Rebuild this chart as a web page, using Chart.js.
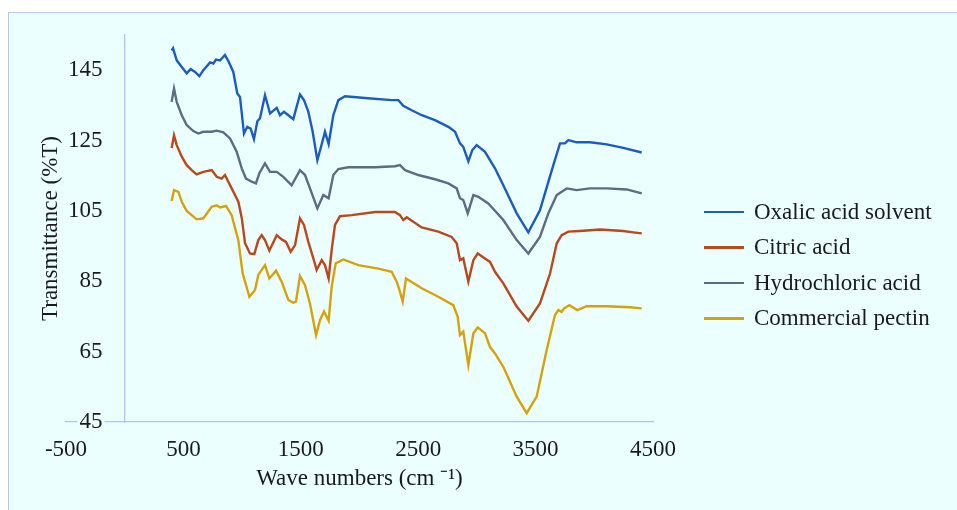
<!DOCTYPE html>
<html>
<head>
<meta charset="utf-8">
<script src="https://cdn.jsdelivr.net/npm/chart.js@4.4.1/dist/chart.umd.min.js"></script>
<style>
  html, body { margin: 0; padding: 0; background: #fff; }
  #frame { position: absolute; left: 8px; top: 12px; width: 949px; height: 498px; background: #ebffff;
           border-top: 1px solid #b7c9e6; border-left: 1px solid #b7c9e6; box-sizing: border-box; }
  #chart { position: absolute; left: 0; top: 0; }
  #legend { position: absolute; left: 704px; top: 194px; font-family: 'Liberation Serif', serif;
            font-size: 23px; color: #1a1a1a; }
  .item { display: flex; align-items: center; height: 35.5px; white-space: nowrap; }
  .swatch { width: 40px; height: 2.5px; margin-right: 10px; }
</style>
</head>
<body>
<div id="frame"></div>
<canvas id="chart" width="957" height="510"></canvas>
<div id="legend"></div>
<script>
// series names and colours (legend order)
const seriesNames = ['Oxalic acid solvent', 'Citric acid', 'Hydrochloric acid', 'Commercial pectin'];
const seriesColors = ['#1b5cc0', '#b9481b', '#5e6b82', '#d5a20b'];

// tick labels
const xTicks = [-500, 500, 1500, 2500, 3500, 4500];
const yTicks = [45, 65, 85, 105, 125, 145];

// Oxalic acid solvent
const oxalicWn = [400, 412, 443, 486, 528, 562, 599, 636, 670, 727, 755, 778, 812, 854, 883, 925, 959, 982,
  1016, 1044, 1073, 1101, 1130, 1152, 1195, 1238, 1295, 1323, 1357, 1394, 1436, 1493, 1527, 1564, 1601, 1641,
  1669, 1706, 1737, 1777, 1820, 1877, 2047, 2274, 2331, 2373, 2445, 2530, 2643, 2757, 2814, 2856, 2884, 2927,
  2961, 2998, 3069, 3154, 3225, 3339, 3438, 3537, 3651, 3708, 3750, 3779, 3850, 3963, 4106, 4247, 4404];
const oxalicT = [150.6, 151.2, 147.8, 145.9, 144.1, 145.3, 144.5, 143.3, 145, 147.2, 146.9, 148, 147.8, 149.3,
  147.6, 144.5, 138.4, 137.4, 127, 128.9, 128.4, 125.4, 130.5, 131.3, 137.9, 132.7, 134.3, 132.2, 133.2, 132.2,
  131.1, 138.1, 136.5, 133.2, 127.5, 119.4, 122.8, 127.5, 124, 132.2, 136.5, 137.6, 137.1, 136.5, 136.5, 134.9,
  133.6, 132.2, 130.8, 128.9, 127.5, 124.2, 123.2, 119.1, 122.3, 123.7, 121.8, 117.1, 112.3, 104.3, 98.9, 105.2,
  118, 124.2, 124.2, 125.1, 124.5, 124.5, 123.9, 122.9, 121.6];

// Citric acid
const citricWn = [400, 420, 443, 486, 528, 571, 613, 670, 741, 784, 826, 854, 911, 968, 997, 1025, 1067, 1104,
  1138, 1167, 1195, 1232, 1295, 1337, 1374, 1414, 1451, 1493, 1527, 1564, 1607, 1635, 1678, 1706, 1737, 1763,
  1791, 1834, 1934, 2132, 2302, 2345, 2373, 2402, 2530, 2671, 2785, 2828, 2856, 2884, 2927, 2970, 3007, 3069,
  3112, 3154, 3225, 3339, 3438, 3537, 3623, 3680, 3722, 3779, 3878, 4049, 4247, 4332, 4404];
const citricT = [122.9, 126.5, 123.7, 120.4, 118, 116.6, 115.4, 116.1, 116.6, 114.7, 114.2, 115.2, 111.4, 107.6,
  103, 95.8, 92.9, 92.7, 96.7, 98.1, 96.7, 93.7, 98.1, 96.9, 96.2, 93.4, 95.3, 102.9, 101, 96.2, 91.5, 88.2, 91,
  89.6, 85.8, 93.9, 101, 103.5, 103.8, 104.7, 104.7, 103.8, 102.4, 103.2, 100.3, 99.1, 97.6, 95.8, 91, 91.5, 84.9,
  91, 92.9, 91.5, 90.5, 87.7, 84.4, 77.8, 73.8, 78.7, 87.2, 95.8, 98.1, 99.1, 99.3, 99.7, 99.3, 98.9, 98.6];

// Hydrochloric acid
const hclWn = [400, 420, 443, 486, 528, 585, 627, 670, 741, 784, 840, 897, 954, 997, 1033, 1082, 1118, 1147,
  1195, 1238, 1295, 1351, 1422, 1493, 1536, 1578, 1641, 1692, 1737, 1777, 1820, 1905, 2132, 2302, 2345, 2388,
  2501, 2643, 2757, 2828, 2856, 2884, 2922, 2970, 3012, 3097, 3225, 3339, 3438, 3537, 3608, 3680, 3765, 3850,
  3963, 4106, 4276, 4404];
const hclT = [136, 139.8, 136, 132.2, 129.4, 127.7, 127, 127.5, 127.5, 127.8, 127.3, 125.6, 121.8, 117.1, 114.2,
  113.3, 112.8, 115.7, 118.5, 116.1, 116.1, 114.7, 112.3, 116.6, 115.2, 111.4, 105.7, 109.5, 108.6, 115.2, 116.9,
  117.4, 117.4, 117.7, 118, 116.6, 115.2, 114, 112.8, 111.4, 108.6, 108.1, 104.3, 109.5, 109, 107.1, 102.4, 96.7,
  92.9, 97.6, 104.3, 109.5, 111.4, 110.9, 111.4, 111.4, 111.1, 110];

// Commercial pectin
const pectinWn = [400, 420, 457, 486, 528, 613, 670, 741, 784, 812, 863, 911, 968, 1005, 1062, 1110, 1138, 1195,
  1232, 1289, 1337, 1394, 1436, 1459, 1493, 1536, 1578, 1630, 1664, 1698, 1737, 1763, 1797, 1862, 1990, 2160,
  2274, 2317, 2345, 2368, 2396, 2530, 2671, 2799, 2836, 2856, 2884, 2927, 2970, 3007, 3069, 3112, 3154, 3225,
  3339, 3424, 3509, 3594, 3665, 3694, 3722, 3742, 3787, 3855, 3935, 4106, 4304, 4404];
const pectinT = [107.8, 110.9, 110.4, 107.6, 105, 102.6, 102.9, 106.2, 106.6, 106, 106.4, 103.8, 96.7, 87.2, 80.6,
  82.5, 86.8, 89.6, 85.8, 88, 84.9, 79.7, 78.9, 79.2, 86.5, 83.9, 78.7, 69.7, 74, 76.4, 73.8, 83.4, 90.1, 91.2,
  89.6, 88.6, 87.7, 84.9, 82, 79.2, 85.8, 83, 80.6, 78.2, 75, 69.7, 70.7, 61.2, 70.2, 71.9, 70.2, 66.3, 64.5,
  60.7, 52.2, 47.5, 52.2, 65.4, 75.4, 76.8, 76.3, 77.3, 78.2, 76.8, 77.9, 77.9, 77.6, 77.3];

const xs = [oxalicWn, citricWn, hclWn, pectinWn];
const ys = [oxalicT, citricT, hclT, pectinT];

const bg = '#ebffff';
const axisColor = '#b4c6e6';
const textColor = '#1a1a1a';
const font = { family: "'Liberation Serif', serif", size: 23 };

const datasets = seriesNames.map((name, i) => ({
  label: name,
  data: xs[i].map((x, j) => ({ x: x, y: ys[i][j] })),
  borderColor: seriesColors[i],
  backgroundColor: seriesColors[i],
  yAxisID: 'y'
}));

new Chart(document.getElementById('chart'), {
  type: 'line',
  data: { datasets: datasets },
  options: {
    responsive: false,
    animation: false,
    layout: { padding: { left: 30, right: 304, top: 35, bottom: 10 } },
    plugins: { legend: { display: false }, tooltip: { enabled: false } },
    elements: { point: { radius: 0 }, line: { borderWidth: 2.4, tension: 0 } },
    scales: {
      x: {
        type: 'linear', min: -500, max: 4500,
        grid: { display: false, drawTicks: false },
        border: { color: axisColor, width: 1.3 },
        afterBuildTicks: s => { s.ticks = xTicks.map(v => ({ value: v })); },
        afterFit: s => { s.height = 78; },
        ticks: { padding: 14, color: textColor, font: font, maxRotation: 0, callback: v => String(v) },
        title: { display: true, text: 'Wave numbers (cm ⁻¹)', color: textColor, font: font, padding: { top: 0, bottom: 7 } }
      },
      // value axis: carries the title only
      y: {
        type: 'linear', min: 45, max: 155,
        grid: { display: false, drawTicks: false },
        border: { display: false },
        ticks: { display: false },
        afterFit: s => { s.width = 36; },
        title: { display: true, text: 'Transmittance (%T)', color: textColor, font: font, padding: { top: 7, bottom: 0 } }
      },
      // tick labels, right-aligned just left of the axis line
      yTicks: {
        axis: 'y', type: 'linear', position: { x: -190 }, min: 45, max: 155,
        grid: { display: false, drawTicks: false },
        border: { display: false },
        afterBuildTicks: s => { s.ticks = yTicks.map(v => ({ value: v })); },
        ticks: { color: textColor, font: font, showLabelBackdrop: true, backdropColor: bg,
                 backdropPadding: { x: 2, y: 0 }, callback: v => String(v) }
      },
      // vertical axis line crossing at wave number 0
      yLine: {
        axis: 'y', type: 'linear', position: { x: 0 }, min: 45, max: 155,
        grid: { display: false, drawTicks: false },
        ticks: { display: false },
        border: { color: axisColor, width: 1.3 }
      }
    }
  }
});

// legend
const legend = document.getElementById('legend');
seriesNames.forEach((name, i) => {
  const row = document.createElement('div');
  row.className = 'item';
  const sw = document.createElement('span');
  sw.className = 'swatch';
  sw.style.background = seriesColors[i];
  const txt = document.createElement('span');
  txt.textContent = name;
  row.appendChild(sw);
  row.appendChild(txt);
  legend.appendChild(row);
});
</script>
</body>
</html>
